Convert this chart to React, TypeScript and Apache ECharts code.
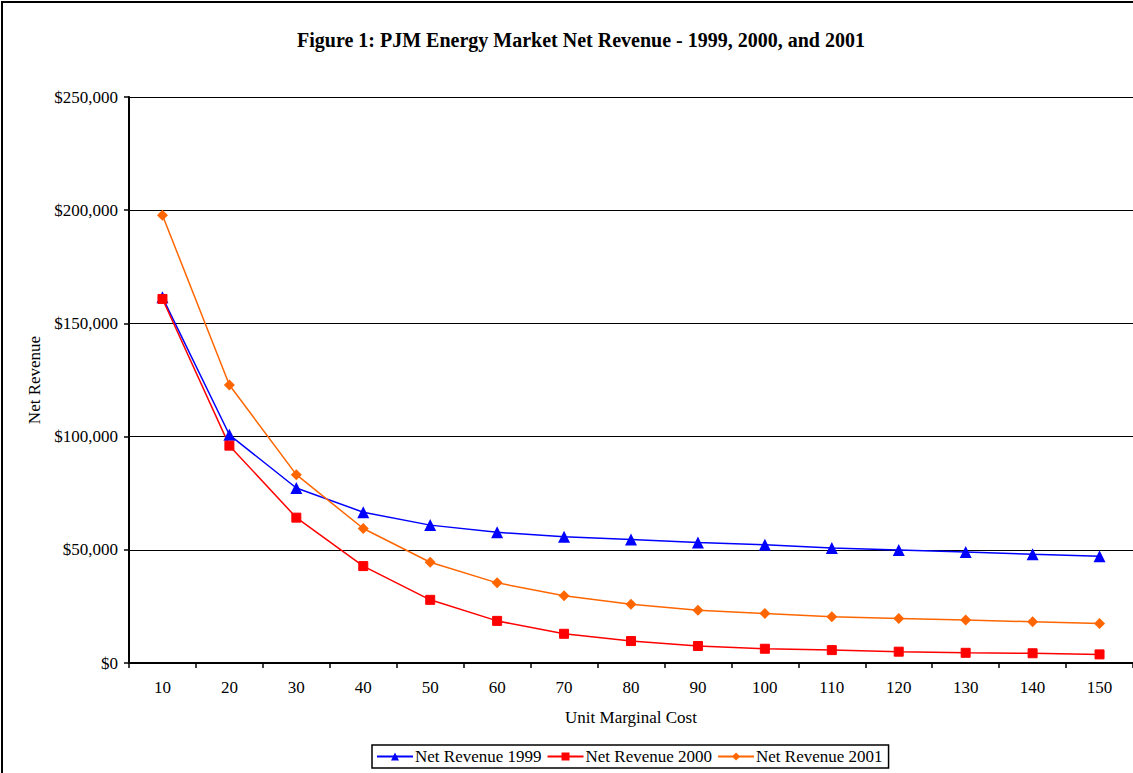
import React, { useEffect, useRef } from "react";
import * as echarts from "echarts";

const categories = ["10", "20", "30", "40", "50", "60", "70", "80", "90", "100", "110", "120", "130", "140", "150"];
const revenue1999 = [161500, 100800, 77300, 66600, 60900, 57700, 55800, 54600, 53200, 52200, 50800, 49900, 49000, 48000, 47200];
const revenue2000 = [160800, 96000, 64200, 42800, 27900, 18600, 12900, 9700, 7500, 6300, 5700, 5000, 4500, 4300, 3800];
const revenue2001 = [197800, 122800, 83200, 59400, 44500, 35400, 29700, 26000, 23300, 21900, 20400, 19700, 19000, 18200, 17500];
const yTicks = { min: 0, max: 250000, interval: 50000 };

const FONT = "Liberation Serif";

export default function App() {
  const ref = useRef<HTMLDivElement>(null);
  useEffect(() => {
    document.body.style.margin = "0";
    const chart = echarts.init(ref.current!, null, { renderer: "svg" });
    const fmt = (v: number) => "$" + v.toLocaleString("en-US");
    chart.setOption({
      animation: false,
      backgroundColor: "#ffffff",
      textStyle: { fontFamily: FONT, color: "#000" },
      title: {
        text: "Figure 1: PJM Energy Market Net Revenue - 1999, 2000, and 2001",
        left: 576,
        textAlign: "center",
        top: 25,
        textStyle: { fontFamily: FONT, fontSize: 20, fontWeight: "bold", color: "#000" },
      },
      graphic: [
        {
          type: "rect",
          shape: { x: 2, y: 2, width: 1140, height: 790 },
          style: { fill: "none", stroke: "#000", lineWidth: 2 },
          silent: true,
        },
      ],
      grid: { left: 129, right: 0, top: 97, bottom: 110, containLabel: false },
      legend: {
        left: 372,
        top: 745,
        padding: [3, 6, 3, 4],
        itemGap: 5,
        itemWidth: 36,
        itemHeight: 10,
        borderColor: "#000",
        borderWidth: 1.5,
        textStyle: { fontFamily: FONT, fontSize: 17, color: "#000", padding: [0, 0, 0, -3] },
        data: ["Net Revenue 1999", "Net Revenue 2000", "Net Revenue 2001"],
      },
      xAxis: {
        type: "category",
        data: categories,
        boundaryGap: true,
        name: "Unit Marginal Cost",
        nameLocation: "middle",
        nameGap: 46,
        nameTextStyle: { fontFamily: FONT, fontSize: 17, color: "#000" },
        axisLine: { lineStyle: { color: "#000", width: 2 } },
        axisTick: { show: true, length: 5, lineStyle: { color: "#000", width: 1.5 } },
        axisLabel: { fontFamily: FONT, fontSize: 17, color: "#000", margin: 16 },
      },
      yAxis: {
        type: "value",
        min: yTicks.min,
        max: yTicks.max,
        interval: yTicks.interval,
        name: "Net Revenue",
        nameLocation: "middle",
        nameGap: 84,
        nameTextStyle: { fontFamily: FONT, fontSize: 17, color: "#000" },
        axisLine: { show: true, lineStyle: { color: "#000", width: 2 } },
        axisTick: { show: true, length: 5, lineStyle: { color: "#000", width: 1.5 } },
        axisLabel: { fontFamily: FONT, fontSize: 17, color: "#000", margin: 11, formatter: fmt },
        splitLine: { show: true, lineStyle: { color: "#000", width: 1.2 } },
      },
      series: [
        {
          name: "Net Revenue 1999",
          type: "line",
          data: revenue1999,
          symbol: "triangle",
          symbolSize: 12,
          color: "#0000FF",
          lineStyle: { color: "#0000FF", width: 1.5 },
          itemStyle: { color: "#0000FF" },
        },
        {
          name: "Net Revenue 2000",
          type: "line",
          data: revenue2000,
          symbol: "rect",
          symbolSize: 9,
          color: "#FF0000",
          lineStyle: { color: "#FF0000", width: 1.5 },
          itemStyle: { color: "#FF0000", borderColor: "#FF0000" },
        },
        {
          name: "Net Revenue 2001",
          type: "line",
          data: revenue2001,
          symbol: "diamond",
          symbolSize: 11,
          color: "#FF6600",
          lineStyle: { color: "#FF6600", width: 1.5 },
          itemStyle: { color: "#FF6600" },
        },
      ],
    });
    return () => chart.dispose();
  }, []);
  return (
    <div
      ref={ref}
      style={{ position: "fixed", left: 0, top: 0, width: 1133, height: 773 }}
    />
  );
}
